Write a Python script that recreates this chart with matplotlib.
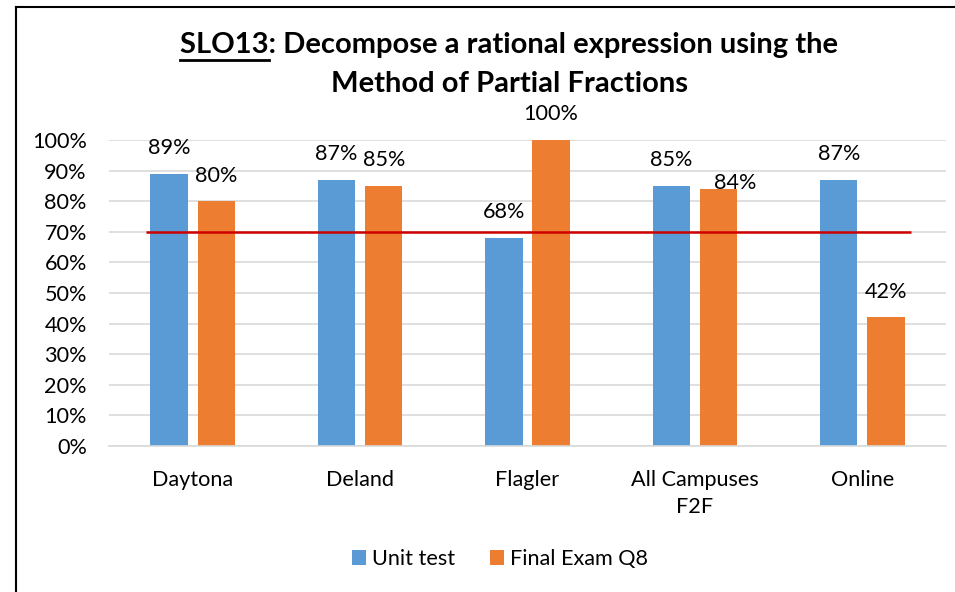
import numpy as np
import matplotlib
matplotlib.use("Agg")
import matplotlib.pyplot as plt
from matplotlib.lines import Line2D

categories = ["Daytona", "Deland", "Flagler", "All Campuses\nF2F", "Online"]
unit_test = [0.89, 0.87, 0.68, 0.85, 0.87]
final_exam = [0.80, 0.85, 1.00, 0.84, 0.42]
target = 0.70
series_names = ["Unit test", "Final Exam Q8"]

BLUE = "#5b9bd5"
ORANGE = "#ed7d31"
GRID = "#d9d9d9"
FS = 15.6

plt.rcParams["font.family"] = ["Lato", "DejaVu Sans"]

W, H = 955, 592
fig = plt.figure(figsize=(W / 100, H / 100), dpi=100)
ax = fig.add_axes([109 / W, 1 - 446 / H, (946 - 109) / W, (446 - 140) / H])

x = np.arange(len(categories))
bw = 0.224
off = 0.141
b1 = ax.bar(x - off, unit_test, bw, color=BLUE, zorder=2, label=series_names[0])
b2 = ax.bar(x + off, final_exam, bw, color=ORANGE, zorder=2, label=series_names[1])

# target line
ax.hlines(target, -0.28, len(categories) - 1 + 0.29, color="#cc0000", lw=1.8, zorder=3)

# data labels
for xi, v in zip(x - off, unit_test):
    ax.annotate(f"{v:.0%}", (xi, v), xytext=(0, 18.5), textcoords="offset points",
                ha="center", va="center", fontsize=FS)
for i, (xi, v) in enumerate(zip(x + off, final_exam)):
    dx, dy = (0, 18.5)
    if categories[i].startswith("All"):
        dx, dy = (12, 4.5)
    ax.annotate(f"{v:.0%}", (xi, v), xytext=(dx, dy), textcoords="offset points",
                ha="center", va="center", fontsize=FS)

ax.set_xlim(-0.5, len(categories) - 0.5)
ax.set_ylim(0, 1)
ticks = np.arange(0, 1.01, 0.1)
ax.set_yticks(ticks)
ax.set_yticklabels([f"{int(round(t * 100))}%" for t in ticks], fontsize=FS)
ax.set_xticks(x)
ax.set_xticklabels(categories, fontsize=FS, linespacing=1.45)
ax.tick_params(axis="both", length=0)
ax.tick_params(axis="y", pad=16)
ax.tick_params(axis="x", pad=17)
ax.yaxis.grid(True, color=GRID, lw=1.2, zorder=0)
ax.set_axisbelow(True)
for s in ["top", "right", "left"]:
    ax.spines[s].set_visible(False)
ax.spines["bottom"].set_color(GRID)
ax.spines["bottom"].set_linewidth(1.2)

# legend
fig.legend(handles=[b1, b2], loc="center", bbox_to_anchor=(500 / W, 1 - 559 / H),
           ncol=2, frameon=False, fontsize=FS, handlelength=0.65, handleheight=0.65,
           handletextpad=0.3, columnspacing=1.6)

# title with underlined "SLO13"
line1 = "SLO13: Decompose a rational expression using the"
line2 = "Method of Partial Fractions"
cx = 509 / W
TFS = 21
t1 = fig.text(cx, 1 - 45 / H, line1, ha="center", va="center", fontsize=TFS, fontweight="bold")
fig.text(cx, 1 - 84 / H, line2, ha="center", va="center", fontsize=TFS, fontweight="bold")
fig.canvas.draw()
r = fig.canvas.get_renderer()
bb = t1.get_window_extent(r)
tmp = fig.text(0, 0, "SLO13", fontsize=TFS, fontweight="bold")
w = tmp.get_window_extent(r).width
tmp.remove()
uy = 1 - 60 / H
fig.add_artist(Line2D([bb.x0 / W, (bb.x0 + w) / W], [uy, uy], color="black", lw=2.0))

# chart border (left and top visible)
fig.add_artist(Line2D([16 / W, 16 / W], [0, 1 - 7 / H], color="black", lw=1.5))
fig.add_artist(Line2D([16 / W, 1], [1 - 7 / H, 1 - 7 / H], color="black", lw=1.5))

fig.savefig("out.png", dpi=100, facecolor="white")
